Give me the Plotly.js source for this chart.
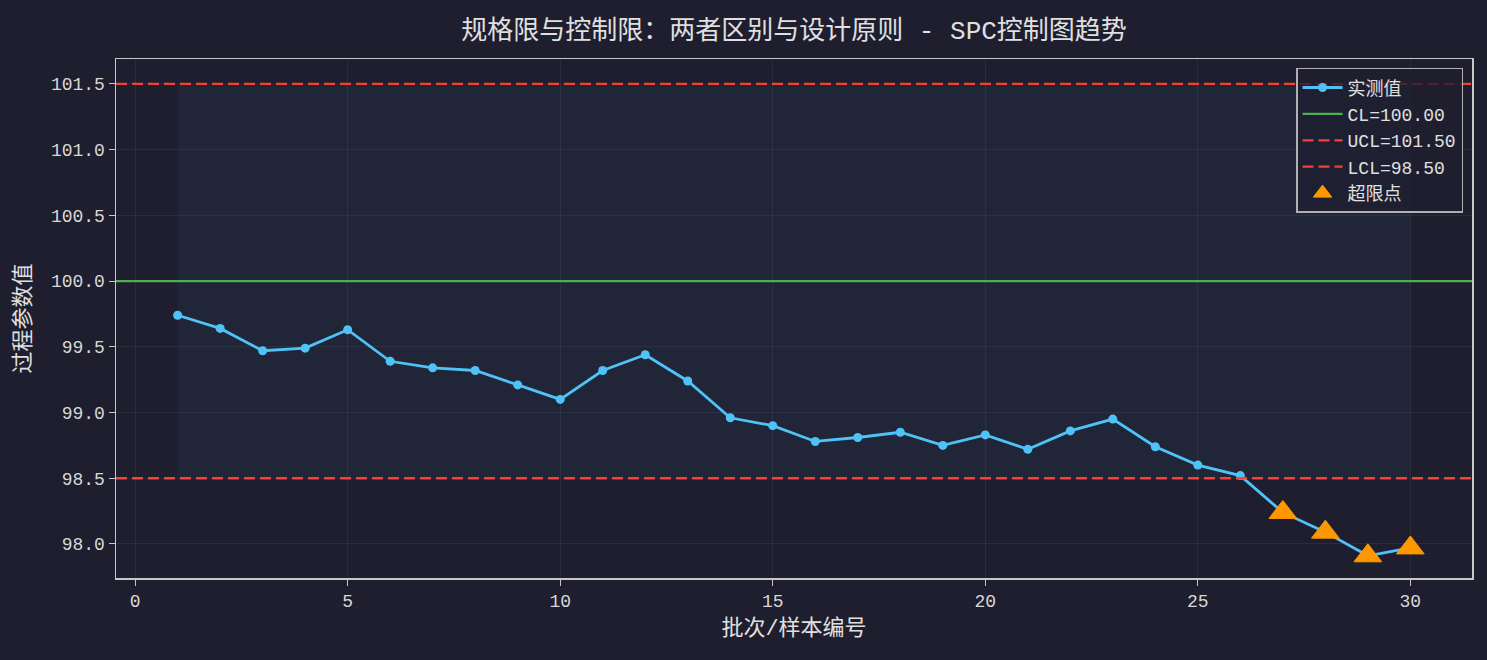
<!DOCTYPE html>
<html>
<head>
<meta charset="utf-8">
<script src="https://cdn.plot.ly/plotly-3.0.1.min.js"></script>
<style>
  html, body { margin: 0; padding: 0; background: #1e1e2e; }
  #chart { width: 1487px; height: 660px; }
</style>
</head>
<body>
<div id="chart"></div>
<script>
const batches = [1, 2, 3, 4, 5, 6, 7, 8, 9, 10, 11, 12, 13, 14, 15,
                 16, 17, 18, 19, 20, 21, 22, 23, 24, 25, 26, 27, 28, 29, 30];
const measured = [99.74, 99.64, 99.47, 99.49, 99.63, 99.39, 99.34, 99.32, 99.21, 99.10,
                  99.32, 99.44, 99.24, 98.96, 98.90, 98.78, 98.81, 98.85, 98.75, 98.83,
                  98.72, 98.86, 98.95, 98.74, 98.60, 98.52, 98.24, 98.09, 97.91, 97.97];
const CL = 100.0;
const UCL = 101.5;
const LCL = 98.5;
const yTicks = [98.0, 98.5, 99.0, 99.5, 100.0, 100.5, 101.0, 101.5];
const xTicks = [0, 5, 10, 15, 20, 25, 30];

const FONT = '"Liberation Mono", "DejaVu Sans Mono", "Noto Sans CJK SC", monospace';
const BG = "#1e1e2e";
const GRID = "rgba(255,255,255,0.06)";
const SPINE = "#c8c8c8";

// points outside the control limits
const outX = [];
const outY = [];
batches.forEach((b, i) => {
  if (measured[i] > UCL || measured[i] < LCL) {
    outX.push(b);
    outY.push(measured[i]);
  }
});

const data = [
  {
    type: "scatter",
    mode: "lines+markers",
    name: "实测值",
    x: batches,
    y: measured,
    line: { color: "#4fc3f7", width: 2.8 },
    marker: { color: "#4fc3f7", size: 9 },
    legendrank: 1,
  },
  {
    type: "scatter",
    mode: "markers",
    name: "超限点",
    x: outX,
    y: outY,
    marker: { color: "#ff9800", size: 24, symbol: "triangle-up", line: { color: "#ff9800", width: 1 } },
    legendrank: 5,
  },
];

function limitLine(value, name, color, dash, rank) {
  return {
    type: "line",
    xref: "x domain",
    yref: "y",
    x0: 0,
    x1: 1,
    y0: value,
    y1: value,
    line: { color, width: 2.3, dash },
    showlegend: true,
    name,
    legendrank: rank,
  };
}

const layout = {
  width: 1487,
  height: 660,
  paper_bgcolor: BG,
  plot_bgcolor: BG,
  font: { family: FONT, color: "#d8d8d8", size: 18 },
  margin: { l: 116, r: 15, t: 59, b: 82 },
  title: {
    text: "规格限与控制限：两者区别与设计原则 - SPC控制图趋势",
    font: { family: FONT, size: 26, color: "#e0e0e0" },
    x: 0.534,
    xanchor: "center",
    y: 0.955,
    yanchor: "middle",
  },
  xaxis: {
    range: [-0.45, 31.45],
    tickvals: xTicks,
    ticks: "outside",
    ticklen: 6,
    tickcolor: SPINE,
    showline: true,
    linecolor: SPINE,
    linewidth: 1.5,
    mirror: true,
    showgrid: true,
    gridcolor: GRID,
    zeroline: false,
    tickfont: { size: 18, color: "#d8d8d8" },
    title: { text: "批次/样本编号", font: { size: 22, color: "#e0e0e0" }, standoff: 8 },
  },
  yaxis: {
    range: [97.741, 101.69],
    tickvals: yTicks,
    tickformat: ".1f",
    ticks: "outside",
    ticklen: 6,
    tickcolor: SPINE,
    showline: true,
    linecolor: SPINE,
    linewidth: 1.5,
    mirror: true,
    showgrid: true,
    gridcolor: GRID,
    zeroline: false,
    tickfont: { size: 18, color: "#d8d8d8" },
    title: { text: "过程参数值", font: { size: 22, color: "#e0e0e0" }, standoff: 14 },
  },
  legend: {
    x: 0.9934,
    xanchor: "right",
    y: 0.983,
    yanchor: "top",
    bgcolor: "rgba(30,30,46,0.8)",
    bordercolor: "#b0b0b0",
    borderwidth: 1.5,
    font: { size: 18, color: "#e0e0e0" },
    itemwidth: 40,
    tracegroupgap: 0,
  },
  shapes: [
    {
      type: "rect",
      xref: "x",
      yref: "y",
      x0: batches[0],
      x1: batches[batches.length - 1],
      y0: LCL,
      y1: UCL,
      fillcolor: "rgba(79,195,247,0.05)",
      line: { width: 0 },
      layer: "below",
    },
    limitLine(CL, "CL=" + CL.toFixed(2), "#4caf50", "solid", 2),
    limitLine(UCL, "UCL=" + UCL.toFixed(2), "#f44336", "11px,5px", 3),
    limitLine(LCL, "LCL=" + LCL.toFixed(2), "#f44336", "11px,5px", 4),
  ],
  showlegend: true,
};

Plotly.newPlot("chart", data, layout, { displayModeBar: false, staticPlot: true });
</script>
</body>
</html>
